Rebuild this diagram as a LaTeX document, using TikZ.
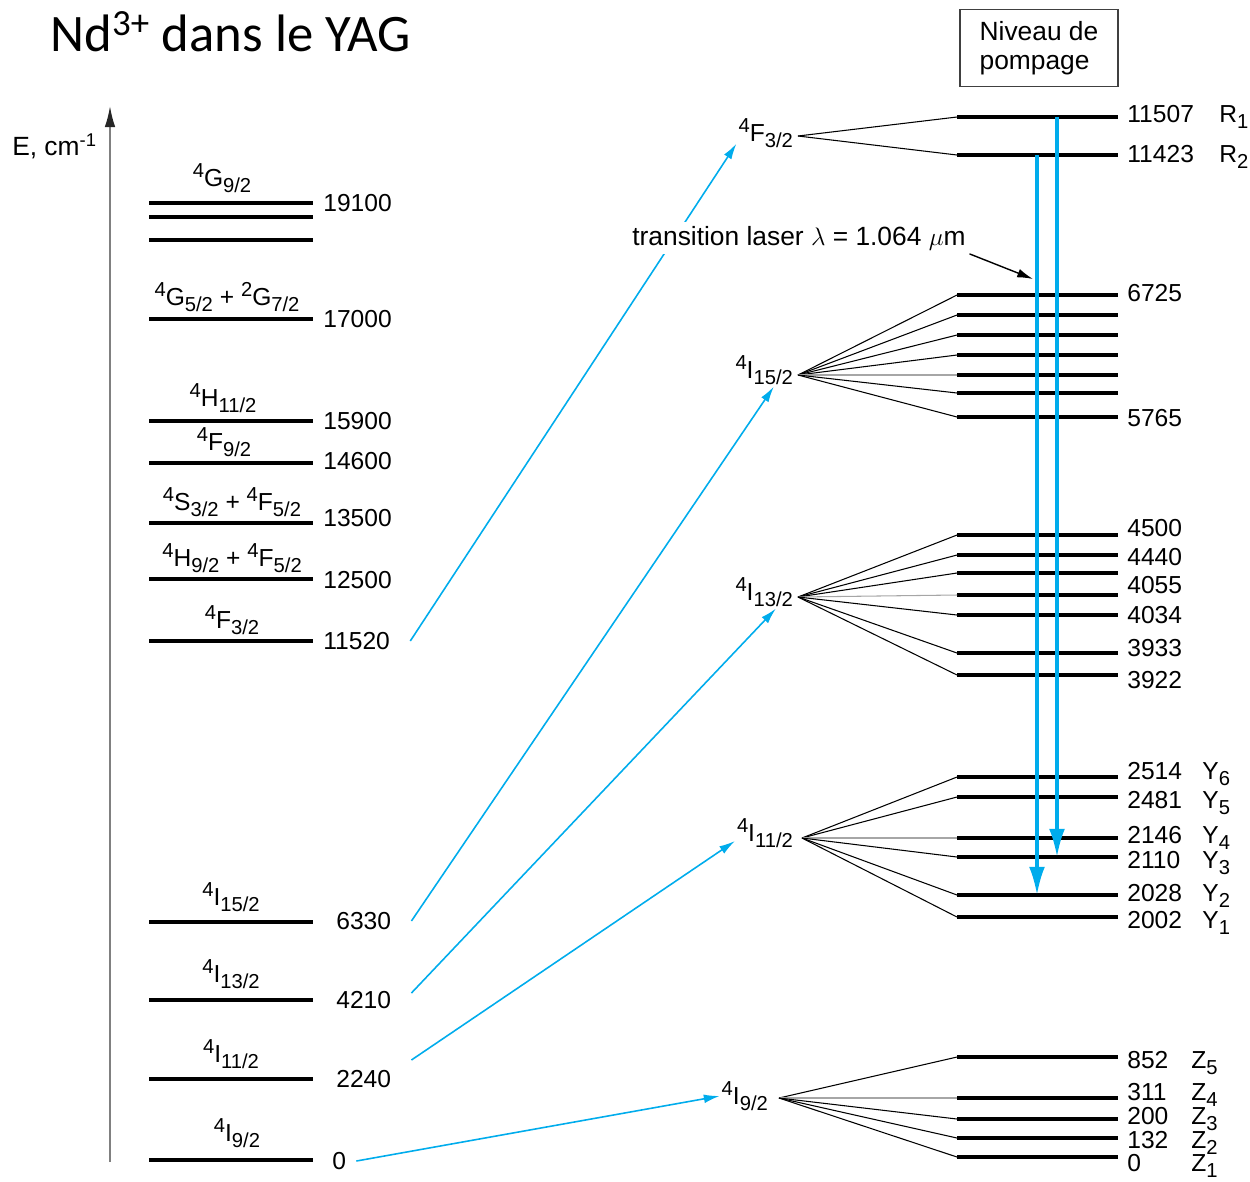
\documentclass[tikz,border=0pt]{standalone}
\usepackage{fontspec}
\setmainfont{Liberation Sans}
\newfontfamily\titlefont{Carlito}
\usetikzlibrary{arrows.meta,calc}
\definecolor{pumpblue}{RGB}{0,172,236}
\newcommand{\scr}[1]{{\fontsize{11.5}{12}\selectfont#1}}
\newcommand{\term}[3]{\raisebox{5pt}{\scr{#1}}#2\raisebox{-3.5pt}{\scr{#3}}}

\begin{document}
\begin{tikzpicture}[
  x=0.02cm, y=-0.02cm,
  font=\fontsize{14}{16}\selectfont,
  >={Latex[length=10pt,width=5pt]},
  lev/.style={line width=1.9pt},
  fan/.style={line width=0.6pt},
  flat/.style={line width=0.6pt,draw=black!35},
  val/.style={anchor=west,inner sep=0pt},
  sym/.style={anchor=base west,inner sep=0pt},
  lbl/.style={inner sep=1pt},
  pump/.style={->,draw=pumpblue,line width=0.9pt,>={Latex[length=9pt,width=5pt]}},
  laser/.style={->,draw=pumpblue,line width=1.8pt,>={Latex[length=16pt,width=9pt]}},
  axis/.style={line width=1pt,draw=black!50,-{Latex[length=12pt,width=6pt,color=black!85]}},
]
\useasboundingbox (0,0) rectangle (1250,1181);

% ---- title and energy axis ----
\node[anchor=west,inner sep=0pt,font=\titlefont\fontsize{30}{34}\selectfont] (title) at (50,32)
  {Nd\textsuperscript{3+} dans le YAG};
\coordinate (axbot) at (110,1162);
\coordinate (axtop) at (110,106);
\draw[axis] (axbot) -- (axtop);
\node[anchor=east,inner sep=1pt,font=\fontsize{15}{17}\selectfont] (elab) at (99,146)
  {E, cm\textsuperscript{-1}};

% ---- left: multiplets ----
\foreach \y in {203,217,240,319,421,463,523,579,641,922,1000,1079,1160}
  \draw[lev] (149,\y) -- (313,\y);
\foreach \y/\v/\x in {203/19100/323,319/17000/323,421/15900/323,461/14600/323,518/13500/323,
                      580/12500/323,641/11520/323,921/6330/336,1000/4210/336,1079/2240/336,1161/0/332}
  \node[val] (v\v) at (\x,\y) {\v};
\node[lbl,anchor=south] (lG9) at (222,195) {\term{4}{G}{9/2}};
\node[lbl,anchor=south] (lG5) at (227,314) {\term{4}{G}{5/2} + \term{2}{G}{7/2}};
\node[lbl,anchor=south] (lH11) at (223,415) {\term{4}{H}{11/2}};
\node[lbl,anchor=south] (lF9) at (224,459) {\term{4}{F}{9/2}};
\node[lbl,anchor=south] (lS3) at (232,519) {\term{4}{S}{3/2} + \term{4}{F}{5/2}};
\node[lbl,anchor=south] (lH9) at (232,575) {\term{4}{H}{9/2} + \term{4}{F}{5/2}};
\node[lbl,anchor=south] (lF3) at (232,637) {\term{4}{F}{3/2}};
\node[lbl,anchor=south] (lI15) at (231,914) {\term{4}{I}{15/2}};
\node[lbl,anchor=south] (lI13) at (231,991) {\term{4}{I}{13/2}};
\node[lbl,anchor=south] (lI11) at (231,1071) {\term{4}{I}{11/2}};
\node[lbl,anchor=south] (lI9) at (237,1150) {\term{4}{I}{9/2}};

% ---- right: Stark sublevels ----
\node[draw=black!75,line width=0.9pt,minimum width=3.16cm,minimum height=1.54cm,align=left,
      inner sep=2pt,font=\fontsize{15}{16.5}\selectfont] (pomp) at (1039,48) {Niveau de\\pompage};

% 4F3/2
\coordinate (aF) at (798,136);
\node[lbl,anchor=east] (rF) at (795,133) {\term{4}{F}{3/2}};
\foreach \y/\n in {117/R1,155/R2}{
  \draw[lev] (957,\y) coordinate (\n) -- (1118,\y);
  \draw[fan] (aF) -- (\n);
}
\foreach \y/\v/\s in {114/11507/1,154/11423/2}{
  \node[val] (rv\v) at (1127,\y) {\v};
  \node[sym] at (1219,0 |- rv\v.base) {\term{}{R}{\s}};
}

% 4I15/2
\coordinate (a15) at (798,375);
\node[lbl,anchor=east] (r15) at (795,370) {\term{4}{I}{15/2}};
\foreach \y/\s in {295/fan,315/fan,335/fan,355/fan,375/flat,393/fan,417/fan}{
  \draw[lev] (957,\y) coordinate (p) -- (1118,\y);
  \draw[\s] (a15) -- (p);
}
\foreach \y/\v in {293/6725,418/5765}
  \node[val] (rv\v) at (1127,\y) {\v};

% 4I13/2
\coordinate (a13) at (798,597);
\node[lbl,anchor=east] (r13) at (795,592) {\term{4}{I}{13/2}};
\foreach \y/\s in {535/fan,555/fan,573/fan,595/flat,615/fan,653/fan,675/fan}{
  \draw[lev] (957,\y) coordinate (p) -- (1118,\y);
  \draw[\s] (a13) -- (p);
}
\foreach \y/\v in {528/4500,557/4440,585/4055,615/4034,648/3933,680/3922}
  \node[val] (rv\v) at (1127,\y) {\v};

% 4I11/2
\coordinate (a11) at (802,838);
\node[lbl,anchor=east] (r11) at (795,833) {\term{4}{I}{11/2}};
\foreach \y/\s/\n in {777/fan/Y6,797/fan/Y5,838/flat/Y4,857/fan/Y3,895/fan/Y2,917/fan/Y1}{
  \draw[lev] (957,\y) coordinate (\n) -- (1118,\y);
  \draw[\s] (a11) -- (\n);
}
\foreach \y/\v/\s in {771/2514/6,800/2481/5,835/2146/4,860/2110/3,893/2028/2,920/2002/1}{
  \node[val] (rv\v) at (1127,\y) {\v};
  \node[sym] at (1202,0 |- rv\v.base) {\term{}{Y}{\s}};
}

% 4I9/2
\coordinate (a9) at (779,1098);
\node[lbl,anchor=east] (r9) at (770,1096) {\term{4}{I}{9/2}};
\foreach \y/\s in {1057/fan,1098/flat,1119/fan,1138/fan,1157/fan}{
  \draw[lev] (957,\y) coordinate (p) -- (1118,\y);
  \draw[\s] (a9) -- (p);
}
\foreach \y/\v/\s in {1060/852/5,1092/311/4,1116/200/3,1140/132/2,1163/0/1}{
  \node[val] (rv\v) at (1127,\y) {\v};
  \node[sym] at (1191,0 |- rv\v.base) {\term{}{Z}{\s}};
}

% ---- pump arrows ----
\draw[pump] ($(v11520.east)+(20,0)$) -- (rF.200);
\draw[pump] ($(v6330.east)+(20,0)$) -- (r15.-60);
\draw[pump] ($(v4210.east)+(20,-7)$) -- (r13.-55);
\draw[pump] ($(v2240.east)+(20,-19)$) -- (r11.195);
\draw[pump] ($(v0.east)+(10,0)$) -- (r9.west);

% ---- laser transition ----
\node[fill=white,inner sep=2pt,font=\fontsize{15}{17}\selectfont] (tl) at (799,238)
  {transition laser $\lambda$ = 1.064 $\mu$m};
\coordinate (tlend) at (1033,279);
\draw[->,line width=0.8pt,>={Latex[length=9pt,width=5pt]}] (tl.south east) -- (tlend);
\draw[laser] ([xshift=2cm]R1) -- ([xshift=2cm]Y3);
\draw[laser] ([xshift=1.6cm]R2) -- ([xshift=1.6cm]Y2);
\end{tikzpicture}
\end{document}
